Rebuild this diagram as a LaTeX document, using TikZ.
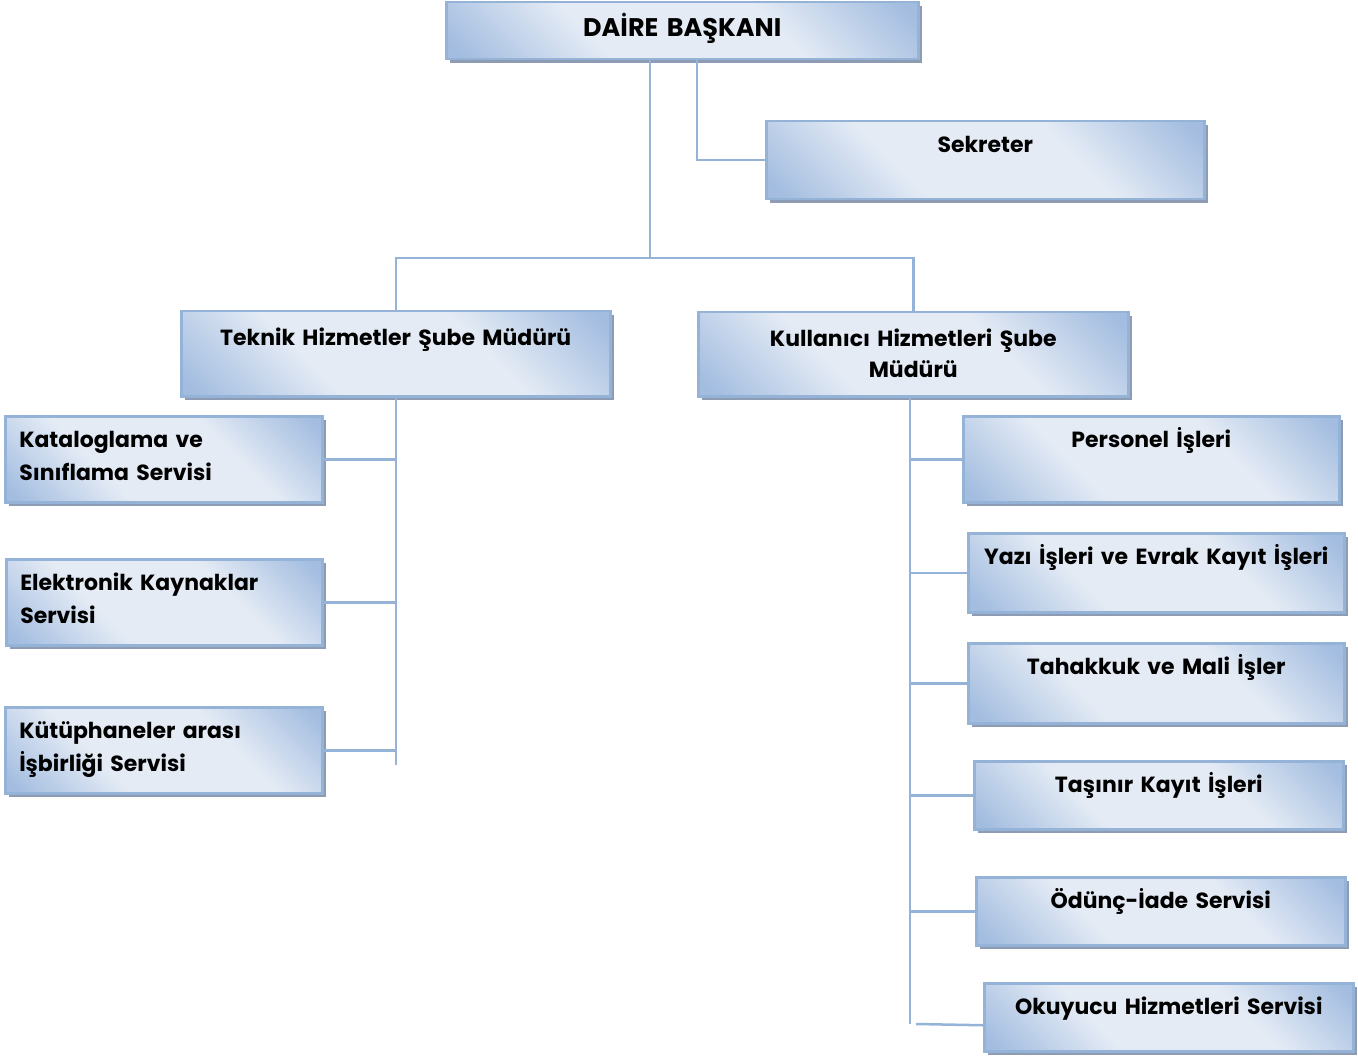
\documentclass[tikz,border=0pt]{standalone}
\usepackage{fontspec}
\setmainfont{Poppins}
\usetikzlibrary{shadows}

\newlength\pxu
\setlength\pxu{0.02cm}

\definecolor{unitedge}{HTML}{95B3D7}
\definecolor{unitblue}{HTML}{A3BDE0}
\definecolor{unitlight}{HTML}{E4EBF5}
\definecolor{unitshadow}{HTML}{8D9CB2}

\pgfdeclarehorizontalshading{unitshading}{100bp}{color(0bp)=(unitblue); color(17bp)=(unitblue); color(37bp)=(unitlight); color(63bp)=(unitlight); color(83bp)=(unitblue); color(100bp)=(unitblue)}

\tikzset{
  unit/.style={draw=unitedge, line width=2.5\pxu, shading=unitshading, shading angle=45,
    drop shadow={shadow xshift=4\pxu, shadow yshift=-4\pxu, fill=unitshadow, opacity=1},
    anchor=north west, inner xsep=0pt, inner ysep=0pt, align=center,
    text height=31.5\pxu, font=\bfseries\fontsize{12.5}{18.5}\selectfont},
  leftunit/.style={unit, align=left, inner xsep=14\pxu},
  link/.style={draw=unitedge, line width=2.5\pxu}
}

\begin{document}
\begin{tikzpicture}[x=1\pxu, y=-1\pxu]
  \useasboundingbox (0,0) rectangle (1358,1057);

  \node [unit, text width=472\pxu, text height=34\pxu, text depth=23\pxu,
    font=\bfseries\fontsize{14.5}{18}\selectfont] (dai) at (445,1) {DAİRE BAŞKANI};
  \node [unit, text width=438\pxu, text depth=46.5\pxu] (sek) at (765,120) {Sekreter};

  \node [unit, text width=429\pxu, text height=34\pxu, text depth=51\pxu] (tek) at (180,310)
    {Teknik Hizmetler Şube Müdürü};
  \node [unit, text width=430\pxu, text height=34\pxu, text depth=50\pxu] (kul) at (697,311)
    {Kullanıcı Hizmetleri Şube\\[-0.5pt]Müdürü};

  % teknik hizmetler
  \node [leftunit, text width=289\pxu, text depth=54.5\pxu] (kat) at (4,415)
    {Kataloglama ve\\Sınıflama Servisi};
  \node [leftunit, text width=288\pxu, text depth=54.5\pxu] (elk) at (5,558)
    {Elektronik Kaynaklar\\Servisi};
  \node [leftunit, text width=289\pxu, text depth=54.5\pxu] (kut) at (4,706)
    {Kütüphaneler arası\\İşbirliği Servisi};

  % kullanici hizmetleri
  \node [unit, text width=376\pxu, text depth=54.5\pxu] (per) at (962,415) {Personel İşleri};
  \node [unit, text width=376\pxu, text depth=47.5\pxu] (yaz) at (967,532) {Yazı İşleri ve Evrak Kayıt İşleri};
  \node [unit, text width=376\pxu, text depth=48.5\pxu] (tah) at (967,642) {Tahakkuk ve Mali İşler};
  \node [unit, text width=369\pxu, text depth=36.5\pxu] (tas) at (973,760) {Taşınır Kayıt İşleri};
  \node [unit, text width=369\pxu, text depth=36.5\pxu] (odu) at (975,876) {Ödünç-İade Servisi};
  \node [unit, text width=369\pxu, text depth=36.5\pxu] (oku) at (983,982) {Okuyucu Hizmetleri Servisi};

  \draw [link] (dai.south -| 650,0) -- (650,258) coordinate (hub);
  \draw [link] (dai.south -| 697,0) |- (sek.west);
  \draw [link] (tek.north) |- (hub) -| (kul.north);

  \draw [link] (tek.south) -- (tek.south |- 0,765);
  \foreach \n in {kat, elk, kut}
    \draw [link] (\n.east) -- (\n.east -| tek.south);

  \draw [link] (kul.south -| 910,0) -- (910,1024);
  \draw [link] (916,1024) -- ([yshift=-8\pxu]oku.west);
  \foreach \n in {per, yaz, tah, tas, odu}
    \draw [link] (\n.west) -- (\n.west -| 910,0);
\end{tikzpicture}
\end{document}
